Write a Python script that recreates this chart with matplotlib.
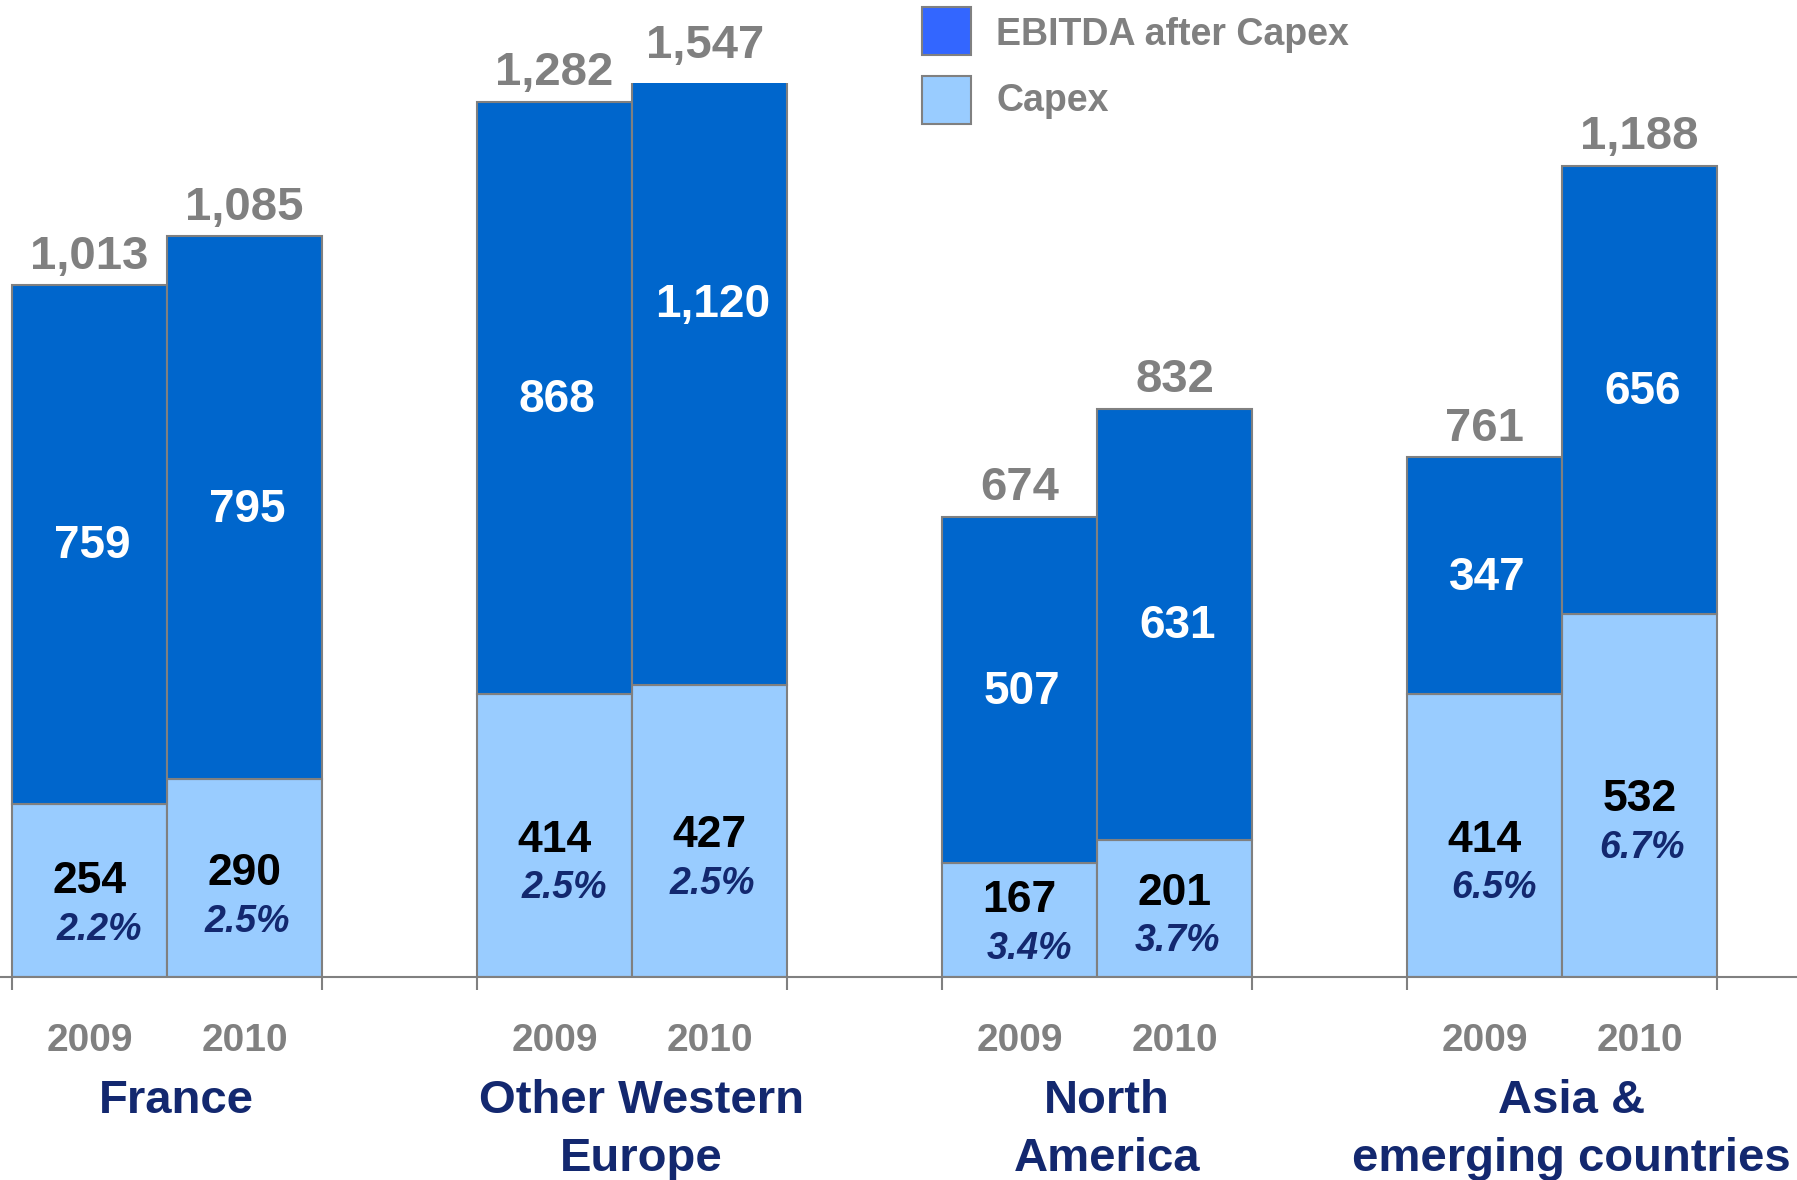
import numpy as np
import matplotlib.pyplot as plt
from matplotlib.patches import Rectangle

plt.rcParams['font.family'] = ['Liberation Sans', 'DejaVu Sans']
plt.rcParams['font.weight'] = 'bold'

# Regional EBITDA split (EUR m)
regions = ['France', 'Other Western\nEurope', 'North\nAmerica', 'Asia &\nemerging countries']
years = ['2009', '2010']
capex = [254, 290, 414, 427, 167, 201, 414, 532]
ebitda_after_capex = [759, 795, 868, 1120, 507, 631, 347, 656]
totals = [1013, 1085, 1282, 1547, 674, 832, 761, 1188]
capex_pct = ['2.2%', '2.5%', '2.5%', '2.5%', '3.4%', '3.7%', '6.5%', '6.7%']

DARK = '#0066CC'
LIGHT = '#99CCFF'
EDGE = '#808080'
GREY_TXT = '#808080'
NAVY = '#13286F'

fig = plt.figure(figsize=(17.97, 11.80), dpi=100)
ax = fig.add_axes([0.0, 0.172, 1.0, 0.758])

# two adjacent bars per region, regions spaced three bar widths apart
x = np.array([3 * g + j for g in range(len(regions)) for j in range(len(years))], dtype=float)
capex_a = np.array(capex)
ebitda_a = np.array(ebitda_after_capex)

ax.bar(x, capex_a, width=1.0, color=LIGHT, edgecolor=EDGE, linewidth=1.5)
ax.bar(x, ebitda_a, bottom=capex_a, width=1.0, color=DARK, edgecolor=EDGE, linewidth=1.5)

ytop = 1310
ax.set_ylim(0, ytop)
ax.set_xlim(-0.577, 11.016)

for s in ['top', 'left', 'right']:
    ax.spines[s].set_visible(False)
ax.spines['bottom'].set_color(EDGE)
ax.spines['bottom'].set_linewidth(1.5)
ax.set_yticks([])
edges = [3 * g + e for g in range(len(regions)) for e in (-0.5, 1.5)]
ax.set_xticks(edges)
ax.set_xticklabels([])
ax.tick_params(axis='x', direction='out', length=9, width=1.5, color=EDGE)

pct_shift = [7, 2]  # italic labels sit a little right of the numbers

for i in range(len(x)):
    xi = x[i]
    # totals above each bar (the tallest bar runs past the top and is cut)
    if totals[i] > ytop:
        ax.annotate(f'{totals[i]:,}', (xi, ytop), xytext=(-3, 18), textcoords='offset points',
                    ha='center', va='baseline', fontsize=34, color=GREY_TXT,
                    annotation_clip=False)
    else:
        ax.annotate(f'{totals[i]:,}', (xi, totals[i]), xytext=(0, 12), textcoords='offset points',
                    ha='center', va='baseline', fontsize=34, color=GREY_TXT)

    # EBITDA after capex in the middle of the dark segment
    ax.annotate(f'{ebitda_after_capex[i]:,}', (xi, capex[i] + ebitda_after_capex[i] / 2),
                xytext=(2, -10), textcoords='offset points', ha='center', va='baseline',
                fontsize=33, color='white')

    # capex value and its share, lifted a bit in short segments
    yc = capex[i] / 2 + max(0, 360 - capex[i]) * 0.18
    ax.annotate(f'{capex[i]:,}', (xi, yc), xytext=(0, -11.5), textcoords='offset points',
                ha='center', va='baseline', fontsize=32, color='black')
    ax.annotate(capex_pct[i], (xi, yc), xytext=(pct_shift[i % 2], -45), textcoords='offset points',
                ha='center', va='baseline', fontsize=27, color=NAVY, style='italic')

    # year under each bar
    ax.annotate(years[i % 2], (xi, 0), xytext=(0, -53), textcoords='offset points',
                ha='center', va='baseline', fontsize=28, color=GREY_TXT, annotation_clip=False)

# region names, one line at a time
for g, name in enumerate(regions):
    for k, line in enumerate(name.split('\n')):
        ax.annotate(line, (3 * g + 0.5, 0), xytext=(7, -98 - 42 * k), textcoords='offset points',
                    ha='center', va='baseline', fontsize=34, color=NAVY, annotation_clip=False)

# legend drawn as figure patches
W, H = 1797.0, 1180.0
legend_items = [('EBITDA after Capex', '#3366FF', 7, 31), ('Capex', LIGHT, 76, 97)]
for label, col, top, ymid in legend_items:
    fig.patches.append(Rectangle((922 / W, 1 - (top + 48) / H), 49 / W, 48 / H,
                                 transform=fig.transFigure, facecolor=col,
                                 edgecolor=EDGE, linewidth=1.5))
    fig.text(996 / W, 1 - ymid / H, label, fontsize=27, color=GREY_TXT,
             ha='left', va='center_baseline')

fig.savefig('out.png', dpi=100, facecolor='white')
